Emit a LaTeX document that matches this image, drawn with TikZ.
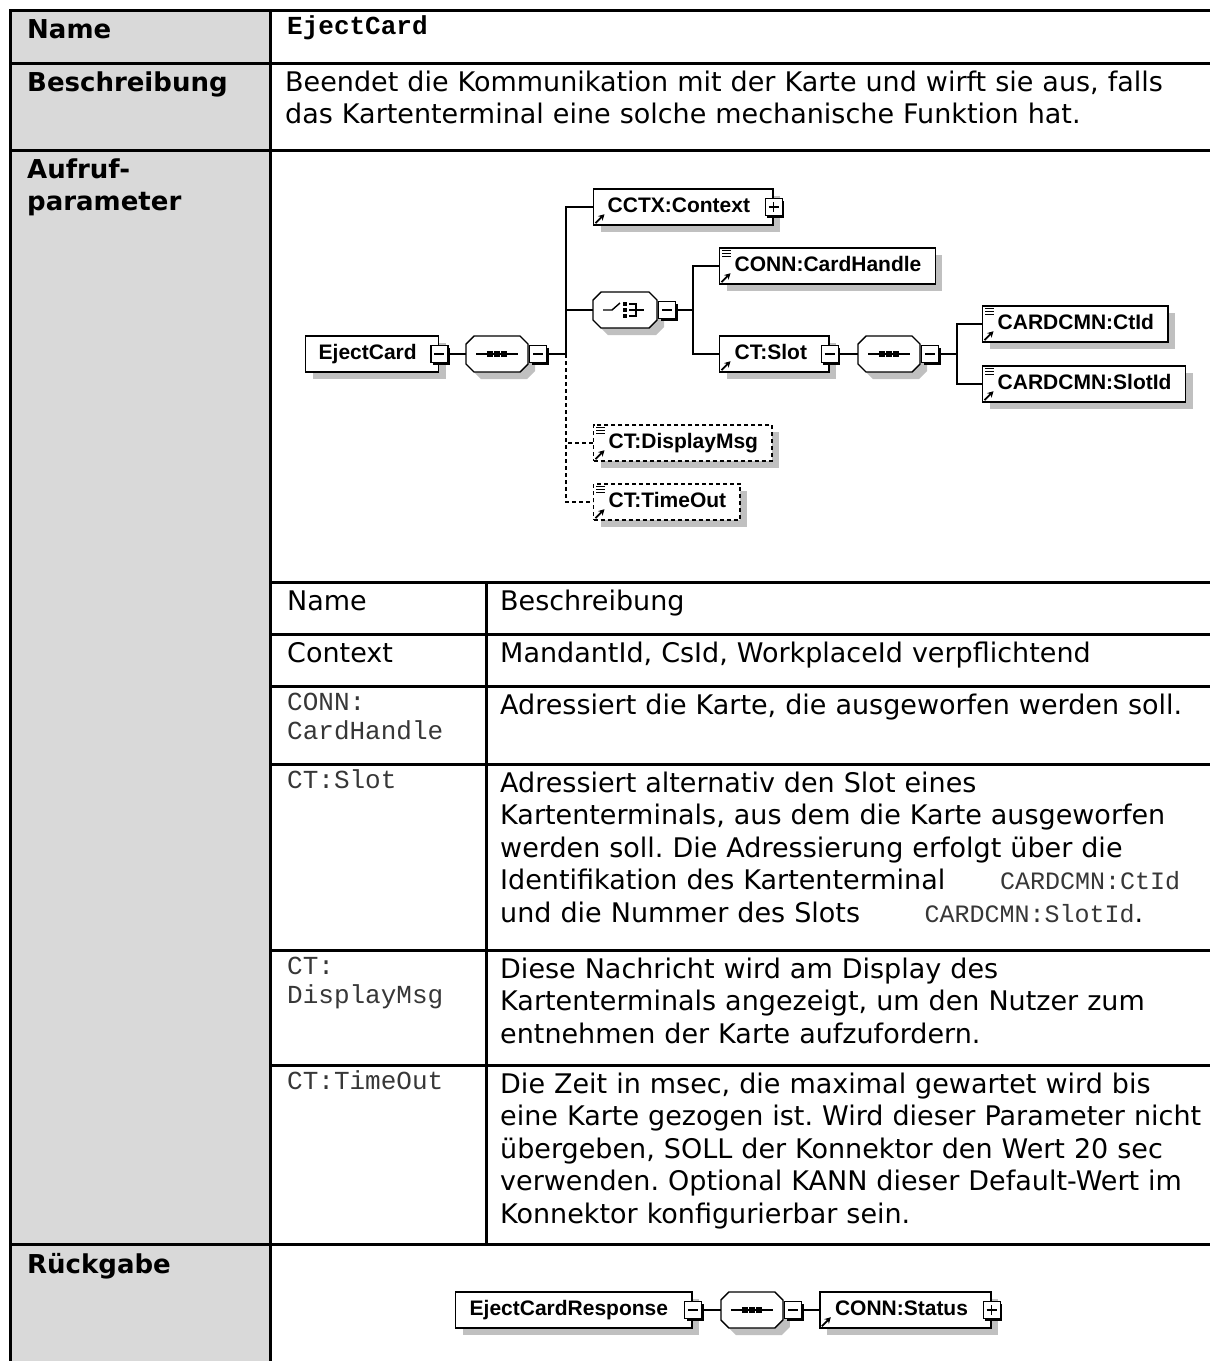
\documentclass[tikz,border=0pt]{standalone}
\usepackage{fontspec}
\usetikzlibrary{shadows,arrows.meta}
\newfontfamily\verd[WordSpace=1.1]{DejaVu Sans}
\newfontfamily\cour{Liberation Mono}
\newfontfamily\diaf{Liberation Sans}
\definecolor{headgray}{RGB}{217,217,217}
\definecolor{shadowc}{RGB}{192,192,192}
\definecolor{monoc}{RGB}{55,55,55}
\newcommand\bodyfont{\verd\fontsize{27}{32.5}\selectfont\frenchspacing}
\newcommand\labelfont{\verd\bfseries\fontsize{26}{32.5}\selectfont}
\newcommand\monofont{\cour\fontsize{26}{29.5}\selectfont\color{monoc}}
\newcommand\inmono[1]{{\cour\fontsize{25}{32.5}\selectfont\color{monoc}#1}}
\newcommand\diafont{\diaf\bfseries\fontsize{21}{25}\selectfont}
% reference arrow (bottom left) and simple-content mark (top left) of an element box
\newcommand\refmark[1]{\draw[line width=1.8pt,-{Stealth[length=6pt,width=6.5pt]}] ([shift={(2.5pt,2.5pt)}]#1.south west) -- ++(9,-9);}
\newcommand\simplemark[1]{\foreach \dd in {3,6,9}{\draw[line width=1pt] ([shift={(3pt,-\dd pt)}]#1.north west) -- ++(9,0);}}
\tikzset{
  grid/.style={line width=3pt, line cap=rect},
  txt/.style={anchor=north west, inner sep=0pt, text width=920pt, align=left, font=\bodyfont, yshift=22.75pt},
  ltxt/.style={txt, font=\labelfont},
  mtxt/.style={anchor=north west, inner sep=0pt, text width=920pt, align=left, font=\monofont, yshift=20.65pt},
  elem/.style={draw, fill=white, line width=1.4pt, minimum height=36pt, inner xsep=0pt, inner ysep=0pt,
    text height=15pt, text depth=5pt, anchor=west, font=\diafont,
    drop shadow={shadow xshift=7pt, shadow yshift=-7pt, fill=shadowc, opacity=1}},
  opt/.style={dash pattern=on 4pt off 3pt},
  conn/.style={line width=1.4pt},
  pm/.style={draw, fill=white, line width=1.3pt, minimum size=17pt, inner sep=0pt,
    drop shadow={shadow xshift=2.2pt, shadow yshift=-2.2pt, fill=black, opacity=1}},
  minus/.style={pm, path picture={\draw[line width=1.3pt] ([xshift=3.5pt]path picture bounding box.west) -- ([xshift=-3.5pt]path picture bounding box.east);}},
  plus/.style={pm, path picture={\draw[line width=1.3pt] ([xshift=3.5pt]path picture bounding box.west) -- ([xshift=-3.5pt]path picture bounding box.east);
      \draw[line width=1.3pt] ([yshift=-3.5pt]path picture bounding box.north) -- ([yshift=3.5pt]path picture bounding box.south);}},
  octo/.style={insert path={(-#1+8,-18) -- (#1-8,-18) -- (#1,-10) -- (#1,10) -- (#1-8,18) -- (-#1+8,18) -- (-#1,10) -- (-#1,-10) -- cycle}},
  seqpic/.pic={
    \fill[shadowc, shift={(7,7)}, octo=31];
    \draw[line width=1.4pt, fill=white, octo=31];
    \draw[line width=1.4pt] (-21,0) -- (21,0);
    \fill (-10,-3) rectangle ++(6,6);
    \fill (-3,-3) rectangle ++(6,6);
    \fill (4,-3) rectangle ++(6,6);
    \node[inner sep=0pt, minimum width=62pt, minimum height=36pt] (-box) at (0,0) {};
  },
  choicepic/.pic={
    \fill[shadowc, shift={(7,7)}, octo=32];
    \draw[line width=1.4pt, fill=white, octo=32];
    \draw[line width=1.4pt] (-22,0) -- (-13,0) -- (-5,-7);
    \fill (-2,-8) rectangle ++(4,4);
    \fill (-2,-2) rectangle ++(4,4);
    \fill (-2,4) rectangle ++(4,4);
    \draw[line width=1.4pt] (4,-6) -- (11,-6) -- (11,6) -- (4,6);
    \draw[line width=1.4pt] (4,0) -- (19,0);
    \node[inner sep=0pt, minimum width=64pt, minimum height=36pt] (-box) at (0,0) {};
  }
}
\begin{document}
\begin{tikzpicture}[x=1pt,y=-1pt]
\useasboundingbox[fill=white] (0,0) rectangle (1210,1361);
% label column
\fill[headgray] (10,10) rectangle (270,1361);

% ---- text of the outer table
\node[ltxt] (lname) at (27,38) {\strut Name};
\node[mtxt, font=\cour\bfseries\fontsize{26}{29.5}\selectfont] (vname) at (287,34) {\strut EjectCard};
\node[ltxt] (ldesc) at (27,91) {\strut Beschreibung};
\node[txt] (vdesc) at (285,91) {\strut Beendet die Kommunikation mit der Karte und wirft sie aus, falls\\das Kartenterminal eine solche mechanische Funktion hat.};
\node[ltxt] (lpar) at (27,178) {\strut Aufruf-\\parameter};
\node[ltxt] (lret) at (27,1273) {\strut R\"uckgabe};

% ---- parameter table
\node[txt] (h1) at (287,610) {\strut Name};
\node[txt] (h2) at (500,610) {\strut Beschreibung};
\node[txt] (p1) at (287,662) {\strut Context};
\node[txt] (d1) at (500,662) {\strut MandantId, CsId, WorkplaceId verpflichtend};
\node[mtxt] (p2) at (287,710) {\strut CONN:\\CardHandle};
\node[txt] (d2) at (500,714) {\strut Adressiert die Karte, die ausgeworfen werden soll.};
\node[mtxt] (p3) at (287,788) {\strut CT:Slot};
\node[txt] (d3) at (500,792) {\strut Adressiert alternativ den Slot eines\\Kartenterminals, aus dem die Karte ausgeworfen\\werden soll. Die Adressierung erfolgt \"uber die\\\makebox[680pt][l]{Identifikation des Kartenterminal\hfill\inmono{CARDCMN:CtId}}\\\makebox[643pt][l]{und die Nummer des Slots\hfill\inmono{CARDCMN:SlotId}.}};
\node[mtxt] (p4) at (287,974) {\strut CT:\\DisplayMsg};
\node[txt] (d4) at (500,978) {\strut Diese Nachricht wird am Display des\\Kartenterminals angezeigt, um den Nutzer zum\\entnehmen der Karte aufzufordern.};
\node[mtxt] (p5) at (287,1089) {\strut CT:TimeOut};
\node[txt] (d5) at (500,1093) {\strut Die Zeit in msec, die maximal gewartet wird bis\\eine Karte gezogen ist. Wird dieser Parameter nicht\\\"ubergeben, SOLL der Konnektor den Wert 20 sec\\verwenden. Optional KANN dieser Default-Wert im\\Konnektor konfigurierbar sein.};

% ---- request structure
\node[elem] (ej) at (305,354) {\hspace*{13pt}EjectCard\hspace*{22pt}};
\node[minus] (ejm) at (ej.east) {};
\pic (sq1) at (497,354) {seqpic};
\node[minus] (sq1m) at ([xshift=10pt]sq1-box.east) {};
\coordinate (bus1) at (566,354);

\node[elem] (cctx) at (593,207) {\hspace*{14pt}CCTX:Context\hspace*{23pt}};
\node[plus] (cctxp) at (cctx.east) {};
\refmark{cctx}

\pic (chc) at (625,310) {choicepic};
\node[minus] (chcm) at ([xshift=10pt]chc-box.east) {};
\coordinate (bus2) at (693,310);

\node[elem] (chdl) at (719,266) {\hspace*{15pt}CONN:CardHandle\hspace*{14pt}};
\refmark{chdl}\simplemark{chdl}
\node[elem] (slot) at (719,354) {\hspace*{15pt}CT:Slot\hspace*{22pt}};
\node[minus] (slotm) at (slot.east) {};
\refmark{slot}
\pic (sq2) at (889,354) {seqpic};
\node[minus] (sq2m) at ([xshift=10pt]sq2-box.east) {};
\coordinate (bus3) at (957,354);
\node[elem] (ctid) at (982,324) {\hspace*{15pt}CARDCMN:CtId\hspace*{14pt}};
\refmark{ctid}\simplemark{ctid}
\node[elem] (slid) at (982,384) {\hspace*{15pt}CARDCMN:SlotId\hspace*{14pt}};
\refmark{slid}\simplemark{slid}

\node[elem, opt] (dmsg) at (593,443) {\hspace*{15pt}CT:DisplayMsg\hspace*{14pt}};
\refmark{dmsg}\simplemark{dmsg}
\node[elem, opt] (tout) at (593,502) {\hspace*{15pt}CT:TimeOut\hspace*{14pt}};
\refmark{tout}\simplemark{tout}

\draw[conn] (ejm.east) -- (sq1-box.west);
\draw[conn] (sq1m.east) -- (bus1);
\draw[conn] (bus1) |- (cctx.west);
\draw[conn] (bus1) |- (chc-box.west);
\draw[conn, opt] (bus1) |- (dmsg.west);
\draw[conn, opt] (bus1) |- (tout.west);
\draw[conn] (chcm.east) -- (bus2);
\draw[conn] (bus2) |- (chdl.west);
\draw[conn] (bus2) |- (slot.west);
\draw[conn] (slotm.east) -- (sq2-box.west);
\draw[conn] (sq2m.east) -- (bus3);
\draw[conn] (bus3) |- (ctid.west);
\draw[conn] (bus3) |- (slid.west);

% ---- response structure
\node[elem] (resp) at (455,1310) {\hspace*{14pt}EjectCardResponse\hspace*{24pt}};
\node[minus] (respm) at (resp.east) {};
\pic (sq3) at ([xshift=50pt]respm.east) {seqpic};
\node[minus] (sq3m) at ([xshift=10pt]sq3-box.east) {};
\node[elem] (stat) at ([xshift=17pt]sq3m.east) {\hspace*{15pt}CONN:Status\hspace*{23pt}};
\node[plus] (statp) at (stat.east) {};
\refmark{stat}
\draw[conn] (respm.east) -- (sq3-box.west);
\draw[conn] (sq3m.east) -- (stat.west);

% ---- table rules
\draw[grid] (10,10) -- (1210,10);
\draw[grid] (10,63) -- (1210,63);
\draw[grid] (10,150) -- (1210,150);
\draw[grid] (10,1244) -- (1210,1244);
\draw[grid] (270,582) -- (1210,582);
\draw[grid] (270,634) -- (1210,634);
\draw[grid] (270,686) -- (1210,686);
\draw[grid] (270,764) -- (1210,764);
\draw[grid] (270,950) -- (1210,950);
\draw[grid] (270,1065) -- (1210,1065);
\draw[grid] (10,10) -- (10,1361);
\draw[grid] (270,10) -- (270,1361);
\draw[grid] (486,582) -- (486,1244);
\end{tikzpicture}
\end{document}
